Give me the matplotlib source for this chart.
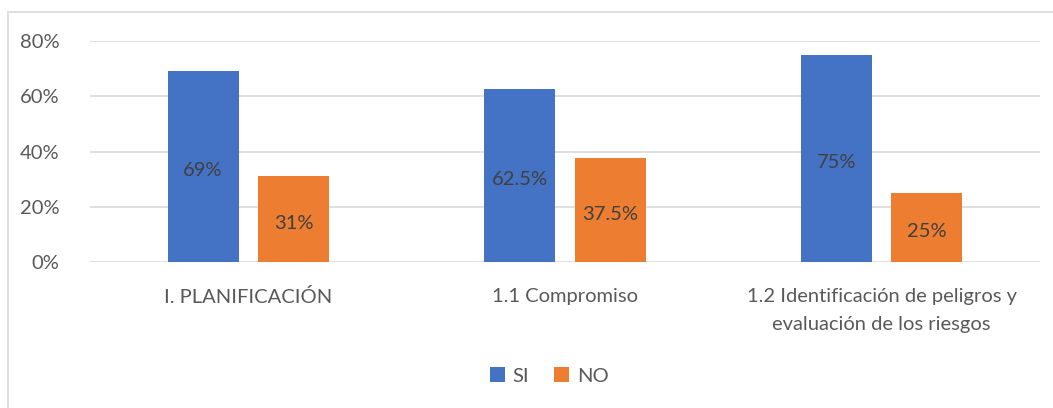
import matplotlib.pyplot as plt
import numpy as np
from matplotlib.patches import Rectangle

# data
categories = ["I. PLANIFICACIÓN", "1.1 Compromiso",
              "1.2 Identificación de peligros y\nevaluación de los riesgos"]
si_values = [0.69, 0.625, 0.75]
no_values = [0.31, 0.375, 0.25]
si_labels = ["69%", "62.5%", "75%"]
no_labels = ["31%", "37.5%", "25%"]
yticks = [0, 0.2, 0.4, 0.6, 0.8]
ytick_labels = ["0%", "20%", "40%", "60%", "80%"]

plt.rcParams['font.family'] = ['Lato', 'DejaVu Sans']
fs = 14.5

fig = plt.figure(figsize=(10.53, 4.08), dpi=100)
ax = fig.add_axes([90/1053, 1-262/408, 950/1053, 221/408])

# chart border (only left and top edges visible in the image)
fig.patches.append(Rectangle((8/1053, -0.1), 1.2, 1 - 12/408 + 0.1,
                             transform=fig.transFigure, fill=False,
                             edgecolor="#d9d9d9", linewidth=1.2))

x = np.arange(len(categories))
w = 0.224
off = 0.143
blue = "#4472c4"
orange = "#ed7d31"

b1 = ax.bar(x - off, si_values, w, color=blue, label="SI", zorder=3)
b2 = ax.bar(x + off, no_values, w, color=orange, label="NO", zorder=3)

ax.bar_label(b1, labels=si_labels, label_type="center", fontsize=fs, color="#404040", padding=-3)
ax.bar_label(b2, labels=no_labels, label_type="center", fontsize=fs, color="#404040", padding=-3)

ax.set_xlim(-0.5, 2.5)
ax.set_ylim(0, 0.8)
ax.set_yticks(yticks)
ax.set_yticklabels(ytick_labels)
ax.set_xticks(x)
ax.set_xticklabels(categories, linespacing=1.75)
ax.tick_params(axis="both", length=0, labelsize=fs, labelcolor="#595959")
ax.tick_params(axis="y", pad=22)
ax.tick_params(axis="x", pad=19)
ax.grid(axis="y", color="#d9d9d9", linewidth=1.2, zorder=0)
for s in ax.spines.values():
    s.set_visible(False)

fig.legend(loc="center", bbox_to_anchor=(549/1053, 1-376/408), ncol=2,
           frameon=False, fontsize=fs, labelcolor="#595959",
           handlelength=0.75, handleheight=0.75, handletextpad=0.4, columnspacing=1.2)

fig.savefig("out.png", dpi=100)
